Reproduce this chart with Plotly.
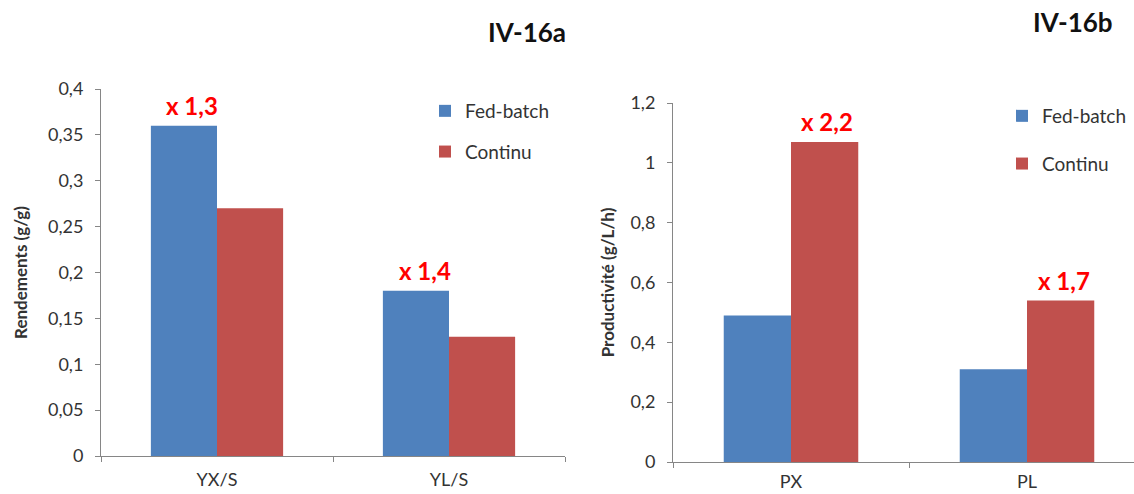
import plotly.graph_objects as go

W, H = 1134, 494

# ---- data ----
cats_a = ["YX/S", "YL/S"]
fed_a = [0.36, 0.18]
cont_a = [0.27, 0.13]

cats_b = ["PX", "PL"]
fed_b = [0.49, 0.31]
cont_b = [1.07, 0.54]

ytick_a_vals = [0, 0.05, 0.1, 0.15, 0.2, 0.25, 0.3, 0.35, 0.4]
ytick_a_text = ["0", "0,05", "0,1", "0,15", "0,2", "0,25", "0,3", "0,35", "0,4"]
ytick_b_vals = [0, 0.2, 0.4, 0.6, 0.8, 1.0, 1.2]
ytick_b_text = ["0", "0,2", "0,4", "0,6", "0,8", "1", "1,2"]

# ratio labels: (panel, category, value, text)
ratios = [
    ("a", "YX/S", 0.36, "x 1,3"),
    ("a", "YL/S", 0.18, "x 1,4"),
    ("b", "PX", 1.07, "x 2,2"),
    ("b", "PL", 0.54, "x 1,7"),
]
ratio_xshift = [-25, -24, 36, 37]

BLUE = "#4F81BD"
RED = "#C0504D"
FONT = "Lato"
AXC = "#868686"
TXT = "#333333"


def px(v):
    return v / W


def py(v):
    return 1 - v / H


fig = go.Figure()
fig.add_trace(go.Bar(x=cats_a, y=fed_a, name="Fed-batch", marker_color=BLUE,
                     marker_line_width=0,
                     xaxis="x", yaxis="y", legend="legend", legendgroup="a1"))
fig.add_trace(go.Bar(x=cats_a, y=cont_a, name="Continu", marker_color=RED,
                     marker_line_width=0,
                     xaxis="x", yaxis="y", legend="legend", legendgroup="a2"))
fig.add_trace(go.Bar(x=cats_b, y=fed_b, name="Fed-batch", marker_color=BLUE,
                     marker_line_width=0,
                     xaxis="x2", yaxis="y2", legend="legend2", legendgroup="b1"))
fig.add_trace(go.Bar(x=cats_b, y=cont_b, name="Continu", marker_color=RED,
                     marker_line_width=0,
                     xaxis="x2", yaxis="y2", legend="legend2", legendgroup="b2"))

axis_common = dict(showline=True, linecolor=AXC, linewidth=1, ticks="outside",
                   tickcolor=AXC, ticklen=5, showgrid=False, zeroline=False,
                   automargin=False,
                   tickfont=dict(family=FONT, size=18, color=TXT))

# right panel x axis extends past the figure edge
bx_end = 1.5 - (1145 - 1134) / 236

fig.update_layout(
    width=W, height=H, autosize=False,
    margin=dict(l=0, r=0, t=0, b=0, pad=0),
    paper_bgcolor="white", plot_bgcolor="white",
    barmode="group", bargap=0.43, bargroupgap=0,
    font=dict(family=FONT),
    xaxis=dict(domain=[px(101), px(565)], anchor="y", tickson="boundaries",
               range=[-0.5, 1.5], ticklabelstandoff=7, **axis_common),
    yaxis=dict(domain=[py(456), py(89)], anchor="x", range=[0, 0.4],
               tickvals=ytick_a_vals, ticktext=ytick_a_text, ticklabelstandoff=8,
               title=dict(text="<b>Rendements (g/g)</b>", standoff=16,
                          font=dict(family=FONT, size=17, color=TXT)),
               **axis_common),
    xaxis2=dict(domain=[px(673), 1], anchor="y2", tickson="boundaries",
                range=[-0.5, bx_end], ticklabelstandoff=3, **axis_common),
    yaxis2=dict(domain=[py(462), py(103)], anchor="x2", range=[0, 1.2],
                tickvals=ytick_b_vals, ticktext=ytick_b_text, ticklabelstandoff=8,
                title=dict(text="<b>Productivité (g/L/h)</b>", standoff=11,
                           font=dict(family=FONT, size=17, color=TXT)),
                **axis_common),
    legend=dict(x=px(425), y=py(92), xanchor="left", yanchor="top",
                font=dict(family=FONT, size=19, color=TXT),
                tracegroupgap=13, bgcolor="rgba(0,0,0,0)", itemwidth=30),
    legend2=dict(x=px(1002), y=py(97), xanchor="left", yanchor="top",
                 font=dict(family=FONT, size=19, color=TXT),
                 tracegroupgap=20, bgcolor="rgba(0,0,0,0)", itemwidth=30),
    showlegend=True,
)

annotations = [
    dict(text="<b>IV-16a</b>", x=px(527), y=py(32), xref="paper", yref="paper",
         xanchor="center", yanchor="middle",
         showarrow=False, font=dict(family=FONT, size=26, color="#111")),
    dict(text="<b>IV-16b</b>", x=px(1073), y=py(22), xref="paper", yref="paper",
         xanchor="center", yanchor="middle",
         showarrow=False, font=dict(family=FONT, size=26, color="#111")),
]
for (panel, cat, val, txt), xs in zip(ratios, ratio_xshift):
    xr, yr = ("x", "y") if panel == "a" else ("x2", "y2")
    annotations.append(dict(text="<b>" + txt + "</b>", x=cat, y=val, xref=xr, yref=yr,
                            xshift=xs, yshift=20, xanchor="center", yanchor="middle",
                            showarrow=False,
                            font=dict(family=FONT, size=24, color="#FF0000")))
fig.update_layout(annotations=annotations)

fig.write_html("out.html", config={"displayModeBar": False},
               post_script="document.body.style.margin='0';document.body.style.overflow='hidden';")
